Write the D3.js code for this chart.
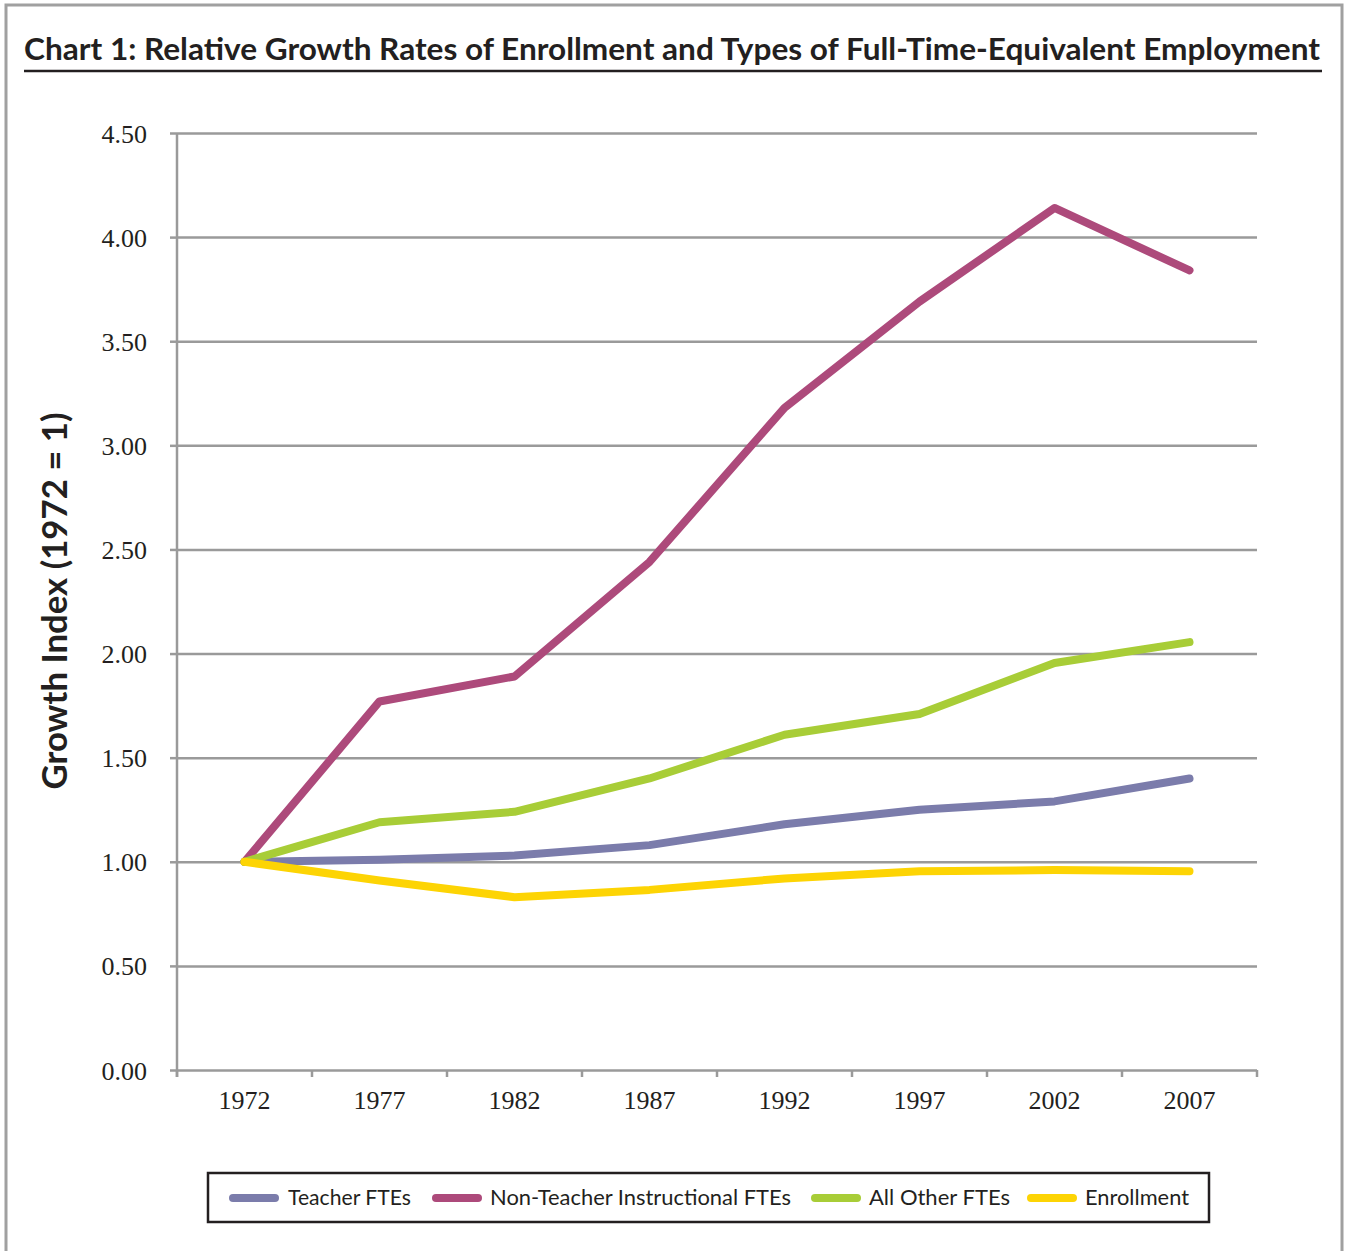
<!DOCTYPE html>
<html>
<head>
<meta charset="utf-8">
<script src="https://cdn.jsdelivr.net/npm/d3@7"></script>
<style>
  body { margin: 0; background: #fff; }
  svg { display: block; }
</style>
</head>
<body>
<svg id="chart" width="1348" height="1251"></svg>
<script>
// 年
const years = ['1972', '1977', '1982', '1987', '1992', '1997', '2002', '2007'];

// 系列データ
const teacherFTEs = [1.00, 1.01, 1.03, 1.08, 1.18, 1.25, 1.29, 1.40];
const nonTeacherFTEs = [1.00, 1.77, 1.89, 2.44, 3.18, 3.69, 4.14, 3.84];
const allOtherFTEs = [1.00, 1.19, 1.24, 1.40, 1.61, 1.71, 1.955, 2.055];
const enrollment = [1.00, 0.91, 0.83, 0.865, 0.92, 0.955, 0.96, 0.955];

// 目盛り
const yTicks = [0, 0.5, 1, 1.5, 2, 2.5, 3, 3.5, 4, 4.5];

const seriesNames = ['Teacher FTEs', 'Non-Teacher Instructional FTEs', 'All Other FTEs', 'Enrollment'];
const seriesColors = ['#7b7cab', '#ad4a7b', '#a8cd37', '#fdd404'];

const series = [teacherFTEs, nonTeacherFTEs, allOtherFTEs, enrollment].map((values, i) => ({
   name: seriesNames[i],
   color: seriesColors[i],
   values: values
}));

const svg = d3.select('#chart');

// 外枠
svg.append('rect')
   .attr('x', 6).attr('y', 5)
   .attr('width', 1336).attr('height', 1260)
   .attr('fill', 'none')
   .attr('stroke', '#a0a0a0')
   .attr('stroke-width', 3);

// タイトル
svg.append('text')
   .attr('x', 24).attr('y', 60)
   .attr('font-family', 'Lato, sans-serif')
   .attr('font-weight', 'bold')
   .attr('font-size', 31)
   .attr('fill', '#231f20')
   .attr('textLength', 1296)
   .attr('lengthAdjust', 'spacingAndGlyphs')
   .text('Chart 1: Relative Growth Rates of Enrollment and Types of Full-Time-Equivalent Employment');

svg.append('line')
   .attr('x1', 24).attr('x2', 1322)
   .attr('y1', 71).attr('y2', 71)
   .attr('stroke', '#231f20')
   .attr('stroke-width', 2.5);

const plotLeft = 177, plotRight = 1257, plotTop = 133, plotBottom = 1070;

const x = d3.scaleBand().domain(years).range([plotLeft, plotRight]);
const y = d3.scaleLinear().domain([0, 4.5]).range([plotBottom, plotTop]);

// グリッド
svg.append('g')
   .attr('transform', `translate(${plotLeft},0)`)
   .call(d3.axisLeft(y).tickValues(yTicks).tickSize(7).tickFormat(d3.format('.2f')))
   .call(g => g.select('.domain').remove())
   .call(g => g.selectAll('.tick line').attr('stroke', '#9a9a9a').attr('stroke-width', 2.5))
   .call(g => g.selectAll('.tick').append('line')
      .attr('x2', plotRight - plotLeft)
      .attr('stroke', '#9a9a9a')
      .attr('stroke-width', 2.5))
   .call(g => g.selectAll('.tick text')
      .attr('x', -30)
      .attr('dy', '0.35em')
      .attr('fill', '#231f20')
      .attr('font-family', '"Liberation Serif", serif')
      .attr('font-size', 26));

// Y軸線
svg.append('line')
   .attr('x1', plotLeft).attr('x2', plotLeft)
   .attr('y1', plotTop).attr('y2', plotBottom + 7)
   .attr('stroke', '#9a9a9a')
   .attr('stroke-width', 2.5);

// X軸
const xAxis = svg.append('g')
   .attr('transform', `translate(0,${plotBottom})`)
   .call(d3.axisBottom(x).tickSize(0))
   .call(g => g.select('.domain').remove())
   .call(g => g.selectAll('.tick text')
      .attr('dy', 0)
      .attr('y', 39)
      .attr('fill', '#231f20')
      .attr('font-family', '"Liberation Serif", serif')
      .attr('font-size', 26));

const tickPos = years.map(d => x(d)).concat([plotRight]);
xAxis.selectAll('line.sep')
   .data(tickPos)
   .enter()
   .append('line')
   .attr('class', 'sep')
   .attr('x1', d => d).attr('x2', d => d)
   .attr('y1', 0).attr('y2', 7)
   .attr('stroke', '#9a9a9a')
   .attr('stroke-width', 2.5);

// Y軸タイトル
svg.append('text')
   .attr('transform', `translate(67,601) rotate(-90)`)
   .attr('text-anchor', 'middle')
   .attr('font-family', 'Lato, sans-serif')
   .attr('font-weight', 'bold')
   .attr('font-size', 34)
   .attr('fill', '#231f20')
   .attr('textLength', 377)
   .attr('lengthAdjust', 'spacingAndGlyphs')
   .text('Growth Index (1972 = 1)');

// 折れ線
const line = d3.line()
   .x((d, i) => x(years[i]) + x.bandwidth() / 2)
   .y(d => y(d));

svg.append('g')
   .selectAll('path')
   .data(series)
   .enter()
   .append('path')
   .attr('d', d => line(d.values))
   .attr('fill', 'none')
   .attr('stroke', d => d.color)
   .attr('stroke-width', 8)
   .attr('stroke-linecap', 'round')
   .attr('stroke-linejoin', 'round');

// 凡例
svg.append('rect')
   .attr('x', 208).attr('y', 1173)
   .attr('width', 1001).attr('height', 49)
   .attr('fill', 'none')
   .attr('stroke', '#231f20')
   .attr('stroke-width', 2.5);

const legendX = [233, 436, 815, 1031];
const legendTextW = [123, 301, 141, 104];
const legend = svg.append('g')
   .selectAll('g')
   .data(series)
   .enter()
   .append('g')
   .attr('transform', (d, i) => `translate(${legendX[i]},1198)`);

legend.append('line')
   .attr('x1', 0).attr('x2', 42)
   .attr('stroke', d => d.color)
   .attr('stroke-width', 8)
   .attr('stroke-linecap', 'round');

legend.append('text')
   .attr('x', (d, i) => i === 0 ? 55 : 54)
   .attr('dy', '0.35em')
   .attr('font-family', 'Lato, sans-serif')
   .attr('font-size', 21)
   .attr('fill', '#231f20')
   .attr('textLength', (d, i) => legendTextW[i])
   .attr('lengthAdjust', 'spacingAndGlyphs')
   .text(d => d.name);
</script>
</body>
</html>
